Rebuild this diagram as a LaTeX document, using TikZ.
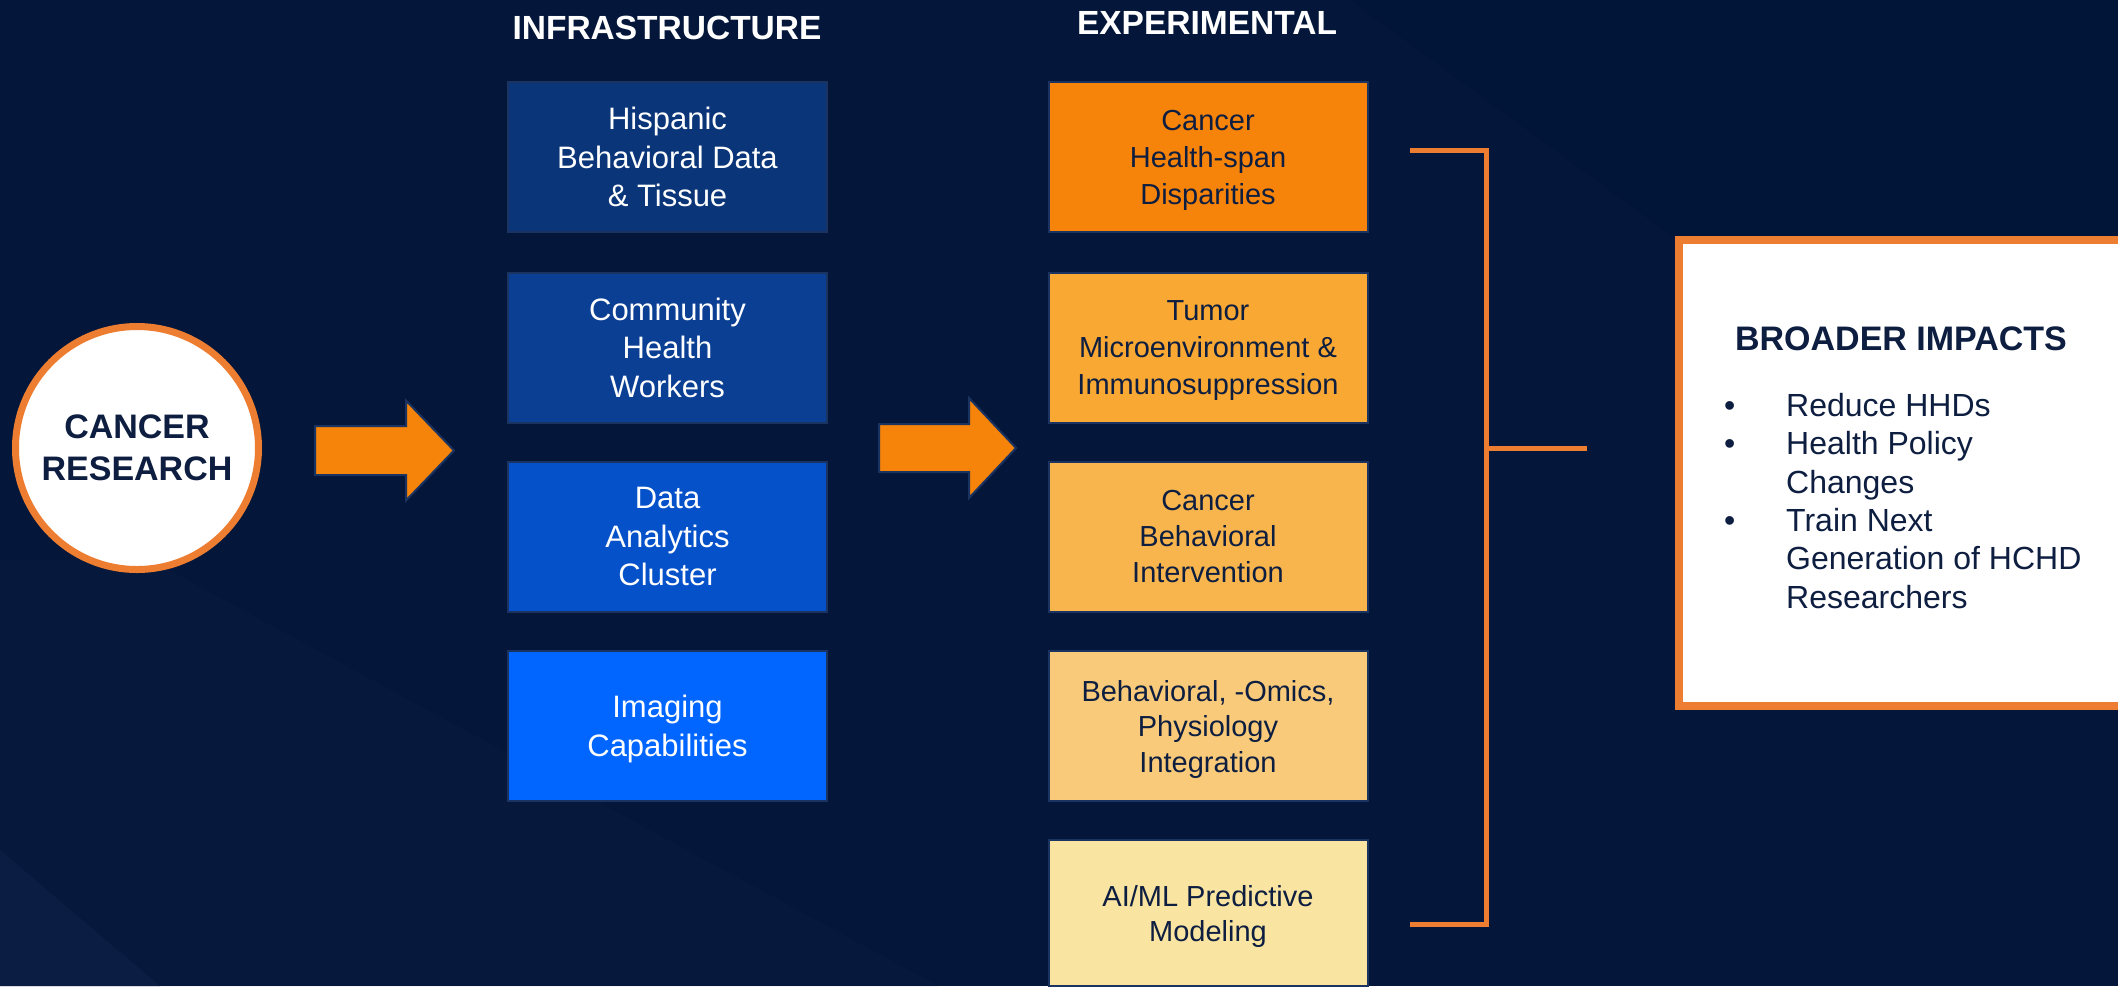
\documentclass[tikz,border=0pt]{standalone}
\usepackage{fontspec}
\setmainfont{Liberation Sans}
\definecolor{bg}{HTML}{04173A}
\definecolor{bgdark}{HTML}{011538}
\definecolor{bglight}{HTML}{0B1D42}
\definecolor{infA}{HTML}{0A3578}
\definecolor{infB}{HTML}{0A3F94}
\definecolor{infC}{HTML}{0551CA}
\definecolor{infD}{HTML}{0066FF}
\definecolor{expA}{HTML}{F6830A}
\definecolor{expB}{HTML}{F8A833}
\definecolor{expC}{HTML}{F8B54D}
\definecolor{expD}{HTML}{F8CA79}
\definecolor{expE}{HTML}{F9E5A1}
\definecolor{orline}{HTML}{ED7D31}
\definecolor{navytext}{HTML}{0E1E40}
\definecolor{boxedge}{HTML}{1A3360}
\begin{document}
\begin{tikzpicture}[x=1pt,y=-1pt,
  box/.style={minimum width=319, minimum height=150, inner sep=0pt, draw=boxedge, line width=2,
    align=center, text depth=-8pt},
  infbox/.style={box, text=white, font=\fontsize{31}{38.5}\selectfont},
  expbox/.style={box, text=navytext, font=\fontsize{29}{37}\selectfont},
  header/.style={font=\bfseries\fontsize{33.5}{40}\selectfont, text=white},
  blockarrow/.style={fill=expA, draw=boxedge, line width=2, line join=miter},
  bracket/.style={draw=orline, line width=5},
  bullettext/.style={anchor=base west, inner sep=0pt, text=navytext, font=\fontsize{32}{38}\selectfont},
]
\useasboundingbox (0,0) rectangle (2118,986);
% background
\fill[bg] (0,0) rectangle (2118,986);
\fill[bgdark] (1350,0) -- (2118,0) -- (2118,563) -- cycle;
\fill[bglight, opacity=0.35] (0,560) -- (150,560) -- (938,986) -- (0,986) -- cycle;
\fill[bglight] (0,850) -- (160,986) -- (0,986) -- cycle;

% circle
\node[circle, minimum size=243, fill=white, draw=orline, line width=7, inner sep=0pt,
      align=center, text=navytext, font=\bfseries\fontsize{34}{42}\selectfont]
  (cancer) at (137,448) {CANCER\\RESEARCH};

% headers
\node[header] (hinf) at (667,28) {INFRASTRUCTURE};
\node[header] (hexp) at (1207,23) {EXPERIMENTAL};

% infrastructure boxes
\node[infbox, fill=infA] (i1) at (667.5,157) {Hispanic\\Behavioral Data\\\& Tissue};
\node[infbox, fill=infB] (i2) at (667.5,347.5) {Community\\Health\\Workers};
\node[infbox, fill=infC] (i3) at (667.5,536.5) {Data\\Analytics\\Cluster};
\node[infbox, fill=infD] (i4) at (667.5,726) {Imaging\\Capabilities};

% experimental boxes
\node[expbox, fill=expA] (e1) at (1208,157) {Cancer\\Health-span\\Disparities};
\node[expbox, fill=expB] (e2) at (1208,347.5) {Tumor\\Microenvironment \&\\Immunosuppression};
\node[expbox, fill=expC, font=\fontsize{29}{36}\selectfont] (e3) at (1208,536.5) {Cancer\\Behavioral\\Intervention};
\node[expbox, fill=expD, font=\fontsize{29}{35.5}\selectfont] (e4) at (1208,726) {Behavioral, -Omics,\\Physiology\\Integration};
\node[expbox, fill=expE, minimum height=146, font=\fontsize{29}{35}\selectfont] (e5) at (1208,913) {AI/ML Predictive\\Modeling};

% block arrows
\coordinate (a1) at (315,450.5);
\draw[blockarrow] (a1) ++(0,-24.5) -- ++(91,0) -- ++(0,-25.5) -- ++(48,50) -- ++(-48,50) -- ++(0,-25.5) -- ++(-91,0) -- cycle;
\coordinate (a2) at (879,448);
\draw[blockarrow] (a2) ++(0,-24) -- ++(90,0) -- ++(0,-26) -- ++(47,50) -- ++(-47,50) -- ++(0,-26) -- ++(-90,0) -- cycle;

% bracket
\coordinate (bt) at (1410,150);
\coordinate (bb) at (1410,924);
\coordinate (bvt) at (1486,150);
\coordinate (bvb) at (1486,924);
\coordinate (bvm) at (1486,448);
\coordinate (bm) at (1587,448);
\draw[bracket] (bt) -- (bvt) -- (bvb) -- (bb);
\draw[bracket] (bvm) -- (bm);

% broader impacts box
\draw[draw=orline, fill=white, line width=8] (1679,240) rectangle (2140,706);
\node[text=navytext, font=\bfseries\fontsize{34}{40}\selectfont] (bi) at (1901,339) {BROADER IMPACTS};
\node[bullettext] (d1) at (1724,416) {•};
\node[bullettext] (t1) at (1786,416) {Reduce HHDs};
\node[bullettext] (d2) at (1724,454.5) {•};
\node[bullettext] (t2) at (1786,454.5) {Health Policy};
\node[bullettext] (t2b) at (1786,493) {Changes};
\node[bullettext] (d3) at (1724,531) {•};
\node[bullettext] (t3) at (1786,531) {Train Next};
\node[bullettext] (t3b) at (1786,569.5) {Generation of HCHD};
\node[bullettext] (t3c) at (1786,608) {Researchers};
\end{tikzpicture}
\end{document}
